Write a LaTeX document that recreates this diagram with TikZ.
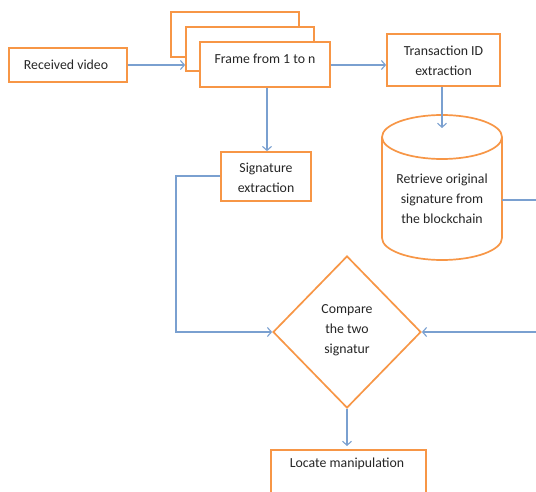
\documentclass[tikz,border=0pt]{standalone}
\usepackage{fontspec}
\setmainfont{Carlito}
\usetikzlibrary{arrows.meta,shapes.geometric}
\definecolor{boxor}{RGB}{247,150,70}
\definecolor{connc}{RGB}{122,160,208}
\begin{document}
\begin{tikzpicture}[x=1pt,y=1pt,
  box/.style={draw=boxor,line width=1.7pt,fill=white,rectangle,inner sep=0pt},
  lbl/.style={font=\fontsize{13.8}{20}\selectfont,text=black!85,align=center,inner sep=0pt},
  conn/.style={draw=connc,line width=1.1pt,-{Straight Barb[length=4pt,width=9pt]}}
]
\useasboundingbox (0,0) rectangle (536,491);
% received video
\node[box,minimum width=118,minimum height=34] (rv) at (68,426) {};
\node[lbl] (rvt) at (66,426) {Received video};
% frame stack
\node[box,minimum width=128,minimum height=45] (f3) at (235,456.5) {};
\node[box,minimum width=128,minimum height=44] (f2) at (250,442) {};
\node[box,minimum width=130,minimum height=45] (f1) at (265,426.5) {};
\node[lbl] (f1t) at (265,432) {Frame from 1 to n};
% transaction
\node[box,minimum width=113,minimum height=52] (tr) at (443.5,431) {};
\node[lbl] (trt) at (443.5,430) {Transaction ID\\extraction};
% cylinder
\coordinate (dbtop) at (442,354);
\draw[boxor,line width=1.7pt,fill=white] (382,354) -- (382,253) arc[start angle=180,end angle=360,x radius=60,y radius=22] -- (502,354);
\draw[boxor,line width=1.7pt,fill=white] (dbtop) ellipse[x radius=60,y radius=22];
\node[inner sep=0pt,minimum width=120,minimum height=101] (db) at (442,303.5) {};
\node[lbl] (dbt) at (442,292) {Retrieve original\\signature from\\the blockchain};
% signature extraction
\node[box,minimum width=90,minimum height=49] (sg) at (266,314.5) {};
\node[lbl] (sgt) at (266,313.5) {Signature\\extraction};
% diamond
\node[draw=boxor,line width=1.7pt,fill=white,diamond,inner sep=0pt,minimum width=148,minimum height=152] (cmp) at (347,159) {};
\node[lbl] (cmpt) at (347,161) {Compare\\the two\\signatur};
% locate
\node[box,minimum width=155,minimum height=47,anchor=north] (loc) at (348.5,42) {};
\node[lbl] (loct) at (347,27) {Locate manipulation};
% connectors
\coordinate (rowy) at (0,426);
\draw[conn] (rv.east |- rowy) -- (f2.west |- rowy);
\draw[conn] (f1.east |- rowy) -- (tr.west |- rowy);
\draw[conn] (tr.south -| dbtop) -- ([yshift=9]dbtop);
\coordinate (colx) at (267,0);
\draw[conn] (f1.south -| colx) -- (sg.north -| colx);
\coordinate (sgl) at (176,315);
\draw[conn] (sg.west |- sgl) -- (sgl) |- (cmp.west);
\coordinate (rr) at (545,291);
\draw[conn] (db.east |- rr) -- (rr) |- (cmp.east);
\draw[conn] (cmp.south) -- ([yshift=3]cmp.south |- loc.north);
\end{tikzpicture}
\end{document}
